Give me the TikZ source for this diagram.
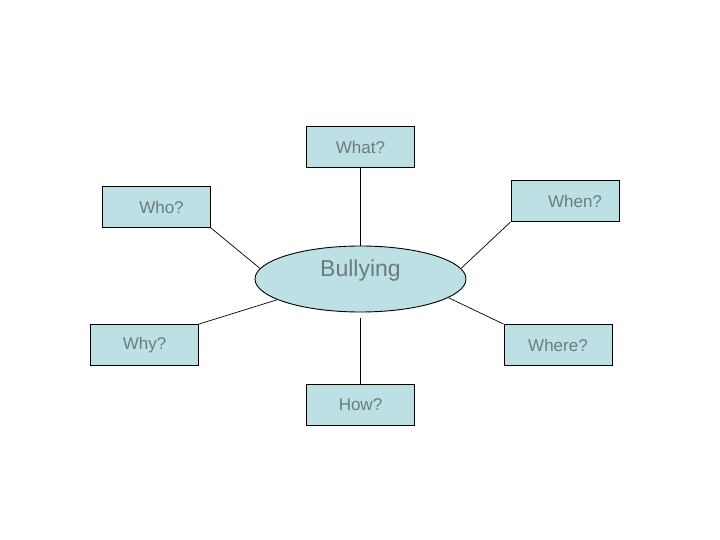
\documentclass[tikz,border=0pt]{standalone}
\usepackage{fontspec}
\setmainfont{Liberation Sans}
\usetikzlibrary{shapes.geometric}
\definecolor{boxfill}{RGB}{188,224,228}
\definecolor{txtgray}{RGB}{108,124,126}
\tikzset{
  qbox/.style={draw=black, fill=boxfill, line width=0.9pt, minimum width=108pt, minimum height=41pt, inner sep=0pt, text=txtgray, font=\fontsize{17}{20}\selectfont},
  bubble/.style={ellipse, draw=black, fill=boxfill, line width=0.9pt, minimum width=211pt, minimum height=66pt, inner sep=0pt},
  link/.style={draw=black, line width=0.7pt}
}
\begin{document}
\begin{tikzpicture}[x=1pt,y=-1pt]
\useasboundingbox (0,0) rectangle (720,540);
\node[bubble, label={[text=txtgray, font=\fontsize{23}{26}\selectfont, yshift=8pt]center:Bullying}] (bully) at (360.5,279) {};
\node[qbox] (what) at (360.5,147) {What?};
\node[qbox] (who) at (156.5,207) {\hspace*{10pt}Who?};
\node[qbox] (when) at (565,201) {\hspace*{20pt}When?};
\node[qbox] (why) at (144.5,345) {Why?};
\node[qbox] (where) at (558,345) {Where?};
\node[qbox] (how) at (360.5,405) {How?};
\coordinate (howtop) at (360.5,318);
\draw[link] (what.south) -- (bully.north);
\draw[link] (who.south east) -- (bully.174.4);
\draw[link] (when.south west) -- (bully.6.5);
\draw[link] (why.north east) -- (bully.194.1);
\draw[link] (where.north west) -- (bully.-12.6);
\draw[link] (how.north) -- (howtop);
\end{tikzpicture}
\end{document}
